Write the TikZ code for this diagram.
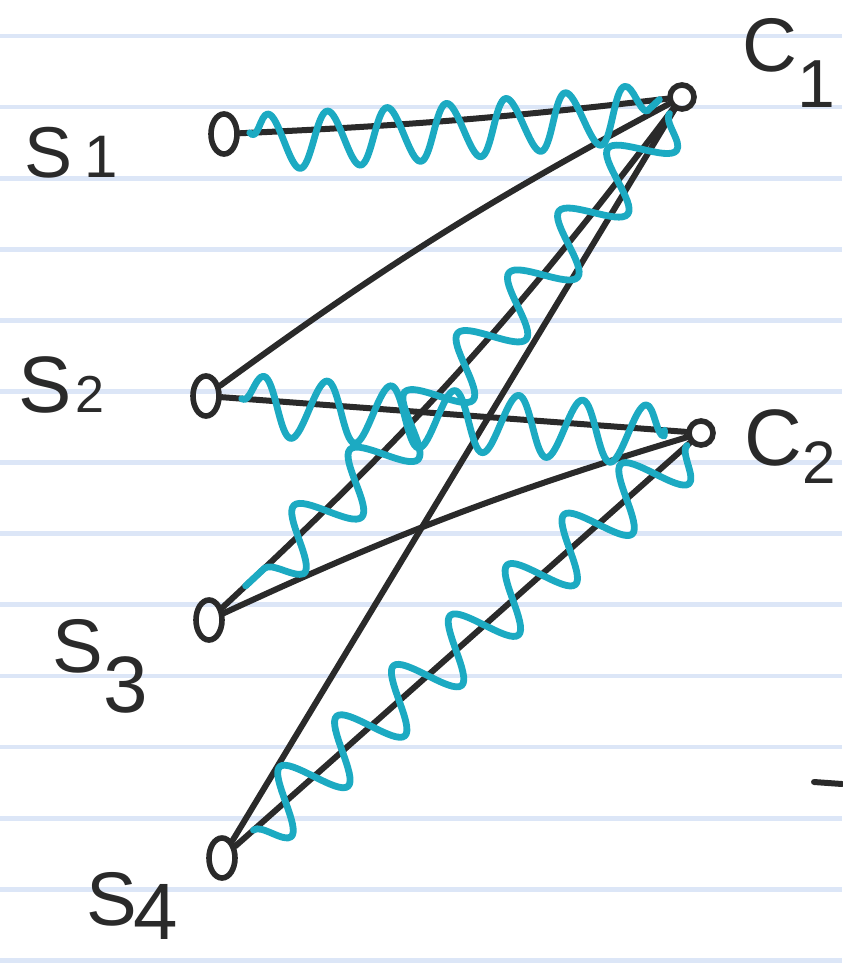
\documentclass[tikz,border=0pt]{standalone}
\usepackage{fontspec}
\setmainfont{Liberation Sans}
\usetikzlibrary{decorations.pathmorphing,shapes.geometric}
\definecolor{ink}{RGB}{42,42,42}
\definecolor{wavec}{RGB}{28,170,194}
\definecolor{rulec}{RGB}{220,230,247}
\newcommand\labsub[3]{\raisebox{#1}{\fontsize{#2}{#2}\selectfont #3}}
\begin{document}
\begin{tikzpicture}[x=0.5pt,y=-0.5pt,
  ruleline/.style={draw=rulec,line width=2.4pt},
  edge/.style={draw=ink,line width=3pt,line cap=round,line join=round},
  svtx/.style={ellipse,draw=ink,line width=2.8pt,minimum width=13pt,minimum height=20pt,inner sep=0pt},
  cvtx/.style={circle,draw=ink,line width=2.8pt,minimum size=12pt,inner sep=0pt},
  lbl/.style={text=ink,inner sep=0pt,anchor=base west},
  wavy/.style={draw=wavec,line width=3.4pt,line cap=round,line join=round,decorate}
]
\useasboundingbox[fill=white] (0,0) rectangle (842,968);
\foreach \k in {0,...,13} \draw[ruleline] (0,{36+71.1*\k}) -- (842,{36+71.1*\k});

% vertices
\node[svtx] (s1) at (224,134) {};
\node[svtx] (s2) at (206,396) {};
\node[svtx] (s3) at (209,620) {};
\node[svtx] (s4) at (222,858) {};
\node[cvtx] (c1) at (682,97) {};
\node[cvtx] (c2) at (701,433) {};

% labels
\node[lbl] (ls1) at (24,178) {\fontsize{36}{36}\selectfont S\hspace{6pt}\labsub{0pt}{30}{1}};
\node[lbl] (ls2) at (18,412) {\fontsize{40}{40}\selectfont S\hspace{2pt}\labsub{0pt}{26}{2}};
\node[lbl] (ls3) at (52,672) {\fontsize{38}{38}\selectfont S\labsub{-20pt}{40}{3}};
\node[lbl] (ls4) at (86,925) {\fontsize{38}{38}\selectfont S\hspace{-2pt}\labsub{-7pt}{40}{4}};
\node[lbl] (lc1) at (742,72) {\fontsize{38}{38}\selectfont C\labsub{-18pt}{34}{1}};
\node[lbl] (lc2) at (744,465) {\fontsize{40}{40}\selectfont C\labsub{-9pt}{30}{2}};

% black edges
\draw[edge] (s1) to[bend right=2] (c1);
\draw[edge] (s2) to[bend left=4] (c1);
\draw[edge] (s2) -- (c2);
\draw[edge] (s3) to[bend right=5] (c1);
\draw[edge] (s3) to[bend left=4] (c2);
\draw[edge] (s4) -- (c1);
\draw[edge] (s4) -- (c2);
\draw[edge] (814,782) -- (842,784);

% wavy edges
\draw[wavy,decoration={snake,segment length=30pt,amplitude=14pt,raise=-5pt,pre=moveto,pre length=5pt,post=moveto,post length=4pt}] (s1) to[bend right=2] (c1);
\draw[wavy,decoration={snake,segment length=40pt,amplitude=14pt,pre=moveto,pre length=3pt,post=moveto,post length=16pt}] (c1) to[bend left=5] (s3);
\draw[wavy,decoration={snake,segment length=32pt,amplitude=15pt,raise=-3pt,pre=moveto,pre length=10pt,post=moveto,post length=10pt}] (s2) -- (c2);
\draw[wavy,decoration={snake,segment length=38pt,amplitude=15pt,pre=moveto,pre length=2pt,post=moveto,post length=12pt}] (c2) -- (s4);
\end{tikzpicture}
\end{document}
